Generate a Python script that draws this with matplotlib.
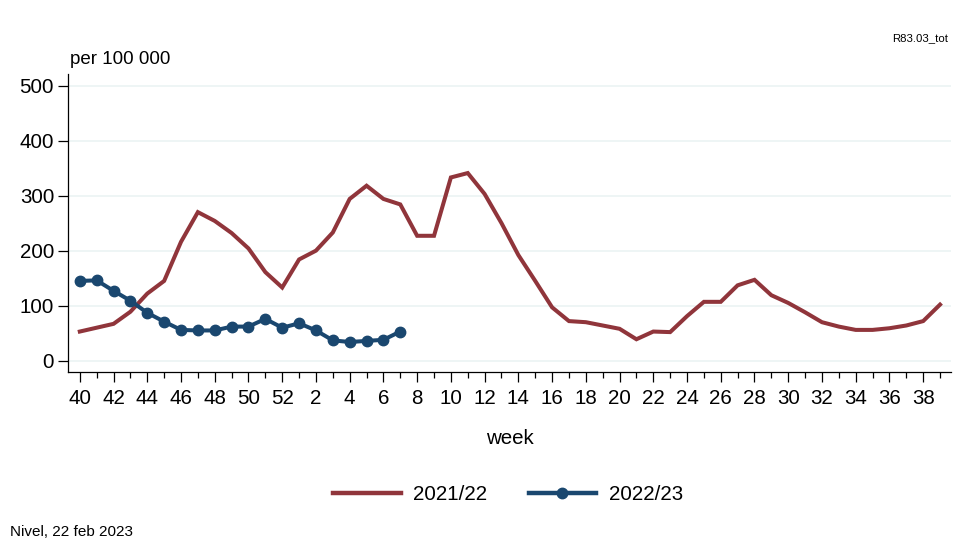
import matplotlib.pyplot as plt
from matplotlib.lines import Line2D

plt.rcParams['font.family'] = ['Liberation Sans', 'DejaVu Sans']

# week order of the season, 40..52 then 1..39
weeks = list(range(40, 53)) + list(range(1, 40))

rate_2122 = [53, 60, 67, 89, 122, 145, 216, 270, 254, 232, 204, 161, 133,
             184, 200, 233, 294, 318, 294, 284, 227, 227, 333, 341, 303, 250,
             192, 145, 97, 72, 70, 64, 58, 39, 53, 52, 81, 107, 107, 137,
             147, 119, 105, 88, 70, 62, 56, 56, 59, 64, 72, 102]

rate_2223 = [145, 146, 127, 109, 87, 71, 56, 55, 55, 62, 62, 76, 60,
             68, 55, 37, 34, 36, 38, 53]

red = '#90353B'
blue = '#1A476F'

fig = plt.figure(figsize=(9.59, 5.57), dpi=100)
ax = fig.add_axes([68 / 959, 1 - 372 / 557, (951 - 68) / 959, (372 - 74) / 557])

x1 = list(range(len(rate_2122)))
x2 = list(range(len(rate_2223)))
ax.plot(x1, rate_2122, color=red, lw=2.9, solid_joinstyle='miter', zorder=3)
ax.plot(x2, rate_2223, color=blue, lw=2.9, marker='o', ms=7.5, zorder=4)

ax.set_xlim(-0.7, 51.65)
ax.set_ylim(-20.5, 521)

ax.set_yticks([0, 100, 200, 300, 400, 500])
ax.grid(axis='y', color='#EAF2F3', lw=1.1, zorder=0)

major = list(range(0, len(weeks), 2))
ax.set_xticks(major)
ax.set_xticklabels([str(weeks[i]) for i in major])
ax.set_xticks(list(range(len(weeks))), minor=True)

ax.tick_params(axis='both', which='major', labelsize=14.8, length=7, width=0.9, color='black')
ax.tick_params(axis='x', which='minor', length=4, width=0.9)
ax.tick_params(axis='x', pad=5)
ax.tick_params(axis='y', pad=3)

for s in ['top', 'right']:
    ax.spines[s].set_visible(False)
for s in ['left', 'bottom']:
    ax.spines[s].set_linewidth(0.9)

ax.set_xlabel('week', fontsize=14.8, labelpad=15)

fig.text(70 / 959, 1 - 60 / 557, 'per 100 000', fontsize=13.5, va='center', ha='left')
fig.text(948 / 959, 1 - 38 / 557, 'R83.03_tot', fontsize=8.2, va='center', ha='right')
fig.text(10 / 959, 1 - 532 / 557, 'Nivel, 22 feb 2023', fontsize=11, va='center', ha='left')

handles = [Line2D([], [], color=red, lw=3.2),
           Line2D([], [], color=blue, lw=3.2, marker='o', ms=7.5)]
fig.legend(handles, ['2021/22', '2022/23'], loc='center', bbox_to_anchor=(508 / 959, 1 - 495 / 557),
           ncol=2, frameon=False, fontsize=14.8, handlelength=3.3, columnspacing=2.0, handletextpad=0.6)

fig.savefig('out.png', dpi=100)
